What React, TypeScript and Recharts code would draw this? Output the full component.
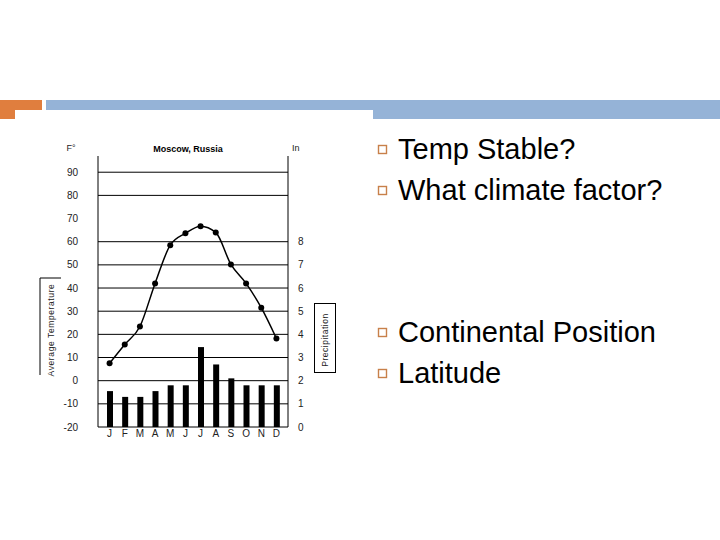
import React from "react";
import { ComposedChart, Bar, Line, XAxis, YAxis, ReferenceLine } from "recharts";

const months = ["J", "F", "M", "A", "M", "J", "J", "A", "S", "O", "N", "D"];
const tempF = [7.5, 15.6, 23.4, 42, 58.5, 63.6, 66.7, 64, 50.2, 42, 31.5, 18.2];
const precipIn = [1.55, 1.3, 1.3, 1.55, 1.8, 1.8, 3.45, 2.7, 2.1, 1.8, 1.8, 1.8];
const tempTicks = [-20, -10, 0, 10, 20, 30, 40, 50, 60, 70, 80, 90];
const precipTicks = [0, 1, 2, 3, 4, 5, 6, 7, 8];
const gridValues = [-10, 0, 10, 20, 30, 40, 50, 60, 80, 90];
const bullets = ["Temp Stable?", "What climate factor?", "Continental Position", "Latitude"];
const bulletTops = [135, 176, 318, 359];

const data = months.map((m, i) => ({ id: i, month: m, temp: tempF[i], precip: precipIn[i] }));

const ORANGE = "#E07E3E";
const BLUE = "#95B3D7";
const tickStyle = { fontSize: 10, fill: "#222", fontFamily: "Liberation Sans, Arial, sans-serif" };

export default function App() {
  return (
    <div style={{ position: "absolute", left: 0, top: 0, width: 720, height: 540, background: "#fff", overflow: "hidden", fontFamily: "Liberation Sans, Arial, sans-serif" }}>
      {/* slide header bars */}
      <div style={{ position: "absolute", left: 0, top: 100, width: 42, height: 10, background: ORANGE }} />
      <div style={{ position: "absolute", left: 0, top: 110, width: 15, height: 9, background: ORANGE }} />
      <div style={{ position: "absolute", left: 46, top: 100, width: 674, height: 10, background: BLUE }} />
      <div style={{ position: "absolute", left: 373, top: 110, width: 347, height: 9, background: BLUE }} />

      <div style={{ position: "absolute", left: 0, top: 0 }}>
        <ComposedChart width={720} height={540} data={data} margin={{ top: 156, left: 58, right: 392, bottom: 93 }}>
          {gridValues.map((v) => (
            <ReferenceLine key={v} yAxisId="t" y={v} stroke="#000" strokeWidth={1} />
          ))}
          <XAxis
            dataKey="id"
            type="category"
            tickFormatter={(i: number) => months[i]}
            axisLine={{ stroke: "#000" }}
            tickLine={false}
            tickSize={0}
            tickMargin={3}
            padding={{ left: 4, right: 4 }}
            height={20}
            tick={tickStyle}
            interval={0}
          />
          <YAxis
            yAxisId="t"
            orientation="left"
            domain={[-20, 97]}
            ticks={tempTicks}
            width={40}
            axisLine={{ stroke: "#000" }}
            tickLine={false}
            tickMargin={14}
            tick={tickStyle}
            interval={0}
            allowDataOverflow
          />
          <YAxis
            yAxisId="p"
            orientation="right"
            domain={[0, 11.7]}
            ticks={precipTicks}
            width={40}
            axisLine={{ stroke: "#000" }}
            tickLine={false}
            tickMargin={4}
            tick={{ ...tickStyle, textAnchor: "start" }}
            interval={0}
            allowDataOverflow
          />
          <Bar yAxisId="p" dataKey="precip" fill="#000" barSize={6} isAnimationActive={false} />
          <Line
            yAxisId="t"
            dataKey="temp"
            type="monotone"
            stroke="#000"
            strokeWidth={1.5}
            dot={{ r: 3, fill: "#000", stroke: "#000", strokeWidth: 0 }}
            activeDot={false}
            isAnimationActive={false}
          />
        </ComposedChart>
      </div>

      {/* chart annotations */}
      <svg width={720} height={540} style={{ position: "absolute", left: 0, top: 0, pointerEvents: "none" }}>
        <text x={188} y={152} textAnchor="middle" fontSize={9} fontWeight="bold" fill="#000">Moscow, Russia</text>
        <text x={71} y={151} textAnchor="middle" fontSize={9} fill="#222">F°</text>
        <text x={292} y={151} fontSize={9} fill="#222">In</text>
        <path d="M61,278 L40,278 L40,375" fill="none" stroke="#000" strokeWidth={1} />
        <text x={0} y={0} transform="translate(54,330) rotate(-90)" textAnchor="middle" fontSize={8.5} letterSpacing={0.6} fill="#222">Average Temperature</text>
        <rect x={314.5} y={303.5} width={21} height={69} fill="none" stroke="#000" strokeWidth={1} />
        <text x={0} y={0} transform="translate(328,340) rotate(-90)" textAnchor="middle" fontSize={8.5} letterSpacing={0.5} fill="#222">Precipitation</text>
        {bulletTops.map((t, i) => (
          <rect key={i} x={378.5} y={t + 10.5} width={8} height={8} fill="none" stroke="#C8804A" strokeWidth={1.4} />
        ))}
      </svg>

      {bullets.map((b, i) => (
        <div key={i} style={{ position: "absolute", left: 398, top: bulletTops[i], fontSize: 29, lineHeight: "29px", color: "#000", whiteSpace: "nowrap" }}>
          {b}
        </div>
      ))}
    </div>
  );
}
